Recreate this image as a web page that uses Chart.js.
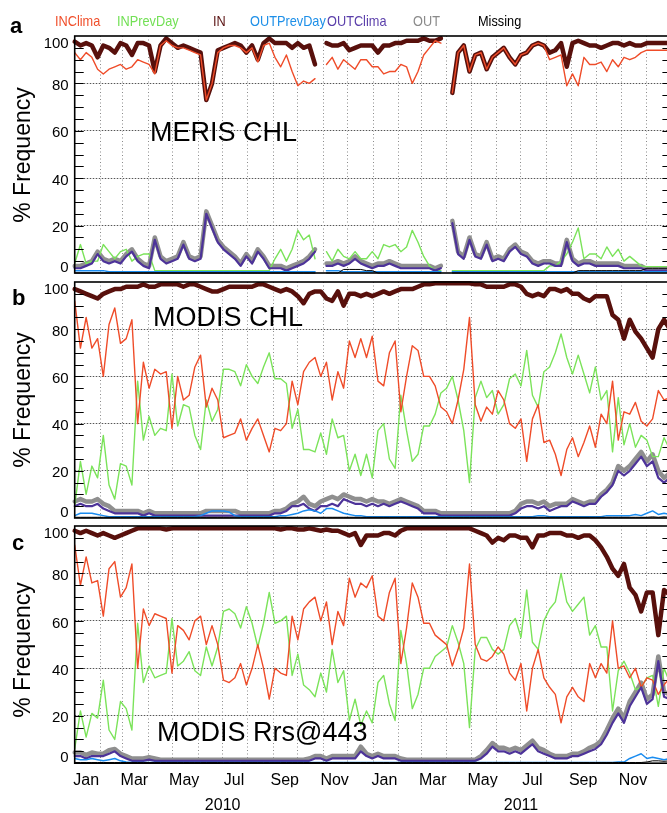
<!DOCTYPE html>
<html><head><meta charset="utf-8">
<script src="https://cdn.jsdelivr.net/npm/chart.js@4.4.1/dist/chart.umd.min.js"></script>
<style>
html,body{margin:0;padding:0;background:#fff;overflow:hidden;width:667px;height:813px;}
#wrap{position:relative;width:667px;height:813px;overflow:hidden;font-family:"Liberation Sans",Arial,Helvetica,sans-serif;color:#000;}
canvas{position:absolute;left:0;}
.t{position:absolute;white-space:nowrap;line-height:1;z-index:3;}
.lg{font-size:15px;transform:scaleX(0.85);transform-origin:0 0;}
.pl{font-size:22px;font-weight:bold;}
.yl{font-size:23px;transform:translate(-50%,-50%) rotate(-90deg);}
.ti{font-size:27px;}
</style></head><body><div id="wrap">
<canvas id="ca" width="680" height="280" style="top:0px;width:680px;height:280px"></canvas>
<canvas id="cb" width="680" height="248" style="top:276px;width:680px;height:248px"></canvas>
<canvas id="cc" width="680" height="293" style="top:520px;width:680px;height:293px"></canvas>

<div class="t lg" style="left:55px;top:13px;color:#f04e2a">INClima</div>
<div class="t lg" style="left:117px;top:13px;color:#72e055">INPrevDay</div>
<div class="t lg" style="left:213px;top:13px;color:#5a1212">IN</div>
<div class="t lg" style="left:250px;top:13px;color:#1d8fe8">OUTPrevDay</div>
<div class="t lg" style="left:327px;top:13px;color:#5a3eaa">OUTClima</div>
<div class="t lg" style="left:413px;top:13px;color:#8a8a8a">OUT</div>
<div class="t lg" style="left:478px;top:13px;color:#000">Missing</div>

<div class="t pl" style="left:10px;top:14.5px">a</div>
<div class="t pl" style="left:12px;top:286.5px">b</div>
<div class="t pl" style="left:12px;top:531.5px">c</div>

<div class="t yl" style="left:22px;top:154.5px">% Frequency</div>
<div class="t yl" style="left:22px;top:400px">% Frequency</div>
<div class="t yl" style="left:22px;top:650px">% Frequency</div>

<div class="t ti" style="left:150px;top:118.8px">MERIS CHL</div>
<div class="t ti" style="left:153px;top:303.8px">MODIS CHL</div>
<div class="t ti" style="left:157px;top:718.8px">MODIS Rrs@443</div>
</div>
<script>
// ---- axis / tick definitions (days since 1 Jan 2010) ----
const weekDays = Array.from({length:105}, (_, i) => i * 7);
const monthStarts = [31,59,90,120,151,181,212,243,273,304,334,365,396,424,455,485,516,546,577,608,638,669,699];
const monthTickDays = [14,73,134,195,257,318,379,438,499,560,622,683];
const monthTickLabels = ['Jan','Mar','May','Jul','Sep','Nov','Jan','Mar','May','Jul','Sep','Nov'];
const yearTickDays = [181,546];
const yearTickLabels = ['2010','2011'];
const yTickValues = [0,20,40,60,80,100];
const yTickLabels = ['0','20','40','60','80','100'];
const yMinorTicks = [5,10,15,20,25,30,35,40,45,50,55,60,65,70,75,80,85,90,95];
const seriesNames = ['INClima','INPrevDay','IN','OUTPrevDay','OUTClima','OUT','Missing'];

// ---- panel a : MERIS CHL ----
const aIN = [97.6,96,97,96,91,96,95,93,97,96,
 92,97,97,96,85,96,99,97,95,96,
 95,94,93,73,80,94,95,96,97,96,
 93,96,90,97,99,97,97,97,95,97,
 95,96,88,null,97,96,96,97,94,95,
 96,96,96,93,96,96,97,97,98,98,
 98,99,98,98,99,null,76,93,96,85,
 92,93,86,91,93,95,91,88,92,93,
 96,97,96,93,94,97,87,97,98,97,
 96,96,95,96,97,97,96,97,96,96,
 97,97,97,97,97];
const aINClima = [93,90,93,91,86,84,86,87,88,86,
 87,90,89,88,84,96,98,96,95,95,
 94,93,92,73,80,93,95,96,96,95,
 93,95,89,96,97,91,87,92,85,79,
 81,80,82,null,88,91,86,90,88,86,
 90,90,87,87,84,85,85,88,87,80,
 85,92,95,98,97,null,76,93,96,85,
 92,93,86,91,93,95,91,88,92,93,
 96,97,96,90,91,92,79,84,79,91,
 88,88,89,85,90,87,91,90,91,93,
 94,94,94,94,94];
const aINPrevDay = [4,12,4,5,5,12,9,6,9,10,
 5,7,8,8,1,1,1,1,1,1,
 1,1,1,1,1,1,1,1,1,1,
 1,1,1,1,1,6,10,5,10,18,
 14,16,6,null,9,5,10,7,6,9,
 6,6,9,6,12,11,12,9,11,18,
 13,7,3,1,1,null,1,1,1,1,
 1,1,1,1,1,1,1,1,1,1,
 1,1,1,3,3,5,8,13,19,6,
 8,8,6,11,7,10,5,7,5,3,
 2.7,2.7,2.7,2.7,2.7];
const aOUTClima = [2,2,3,4,8,5,4,5,4,7,
 9,5,3,2,14,6,4,5,6,12,
 6,5,6,25,19,13,10,8,6,3,
 7,4,9,6,2,2,2,1,2,3,
 4,6,9,null,3,3,4,3,4,6,
 4,3,2,3,3,4,3,2,2,2,
 2,2,2,1,2,null,21,8,6,14,
 7,6,12,5,6,5,9,11,8,7,
 4,3,4,4,3,3,13,5,3,4,
 4,3,3,3,3,3,2,2,2,2,
 1,1,1,1,1];
const aOUT = [3,3,4,5,9,6,5,6,5,8,
 10,6,4,3,15,7,5,6,7,13,
 7,6,7,26,20,14,11,9,7,4,
 8,5,10,7,3,3,3,2,3,4,
 5,7,10,null,4,4,5,4,5,7,
 5,4,3,4,4,5,4,3,3,3,
 3,3,3,2,3,null,22,9,7,15,
 8,7,13,6,7,6,10,12,9,8,
 5,4,5,5,4,4,14,6,4,5,
 5,4,4,4,4,4,3,3,3,3,
 1.5,1.5,1.5,1.5,1.5];
const aOUTPrevDay = [1,1,1,1,1,1,0.5,0.5,0.5,0.5,
 0.5,0.5,0.5,0.5,0.5,0.5,0.5,0.5,0.5,0.5,
 0.5,0.5,0.5,0.5,0.5,0.5,0.5,0.5,0.5,0.5,
 0.5,0.5,0.5,0.5,0.5,0.5,0.5,0.5,0.5,0.5,
 0.5,0.5,0.5,null,1,1,1,0.5,0.5,0.5,
 0.5,0.5,0.5,0.5,0.5,0.5,0.5,0.5,0.5,0.5,
 0.5,0.5,0.5,0.5,0.5,null,0.5,0.5,0.5,0.5,
 0.5,0.5,0.5,0.5,0.5,0.5,0.5,0.5,0.5,0.5,
 0.5,0.5,0.5,0.5,0.5,0.5,0.5,0.5,0.5,0.5,
 0.5,0.5,0.5,0.5,0.5,0.5,0.5,0.5,0.5,0.5,
 0.5,0.5,0.5,0.5,0.5];
const aMissing = [0,0,0,0,0,0,0,0,0,0,
 0,0,0,0,0,0,0,0,0,0,
 0,0,0,0,0,0,0,0,0,0,
 0,0,0,0,0,0,0,0,0,0,
 0,0,0,null,0,0,0,1.5,1.5,1.5,
 1.5,1,1,0,0,0,0,0,0,0,
 0,0,0,0,0,null,0,0,0,0,
 0,0,0,0,0,0,0,0,0,0,
 0,0,0,0,0,0,0,0,1,1,
 1,1,1,1,1,1,1,1,1,1,
 2,2,2,2,2];

// ---- panel b : MODIS CHL ----
const bIN = [97,96,95,94,93,95,96,97,97,98,
 98,98,99,98,98,99,99,99,99,98,
 99,99,98,97,96,96,97,98,98,98,
 98,98,99,99,98,97,96,97,96,94,
 91,95,96,96,93,92,96,90,95,95,
 94,95,94,95,96,95,96,97,97,97,
 98,99,99,99.5,99.5,99.5,99.5,99.5,99.5,99.5,
 99,99,98,98,98,98,99,99,98,95,
 94,95,94,97,97,96,97,95,95,93,
 92,94,94,94,86,84,76,84,79,76,
 72,68,80,84,80];
const bINClima = [92,72,85,72,76,60,82,89,74,76,
 84,40,66,55,63,61,62,38,60,50,
 52,64,69,47,55,50,34,35,36,42,
 33,38,42,35,28,38,37,40,58,48,
 62,66,68,60,66,50,62,55,75,68,
 76,68,77,58,56,70,75,45,60,73,
 71,60,60,56,47,45,40,50,63,85,
 48,41,47,44,54,50,40,38,42,24,
 42,48,32,33,27,18,29,34,26,32,
 39,30,44,40,58,33,45,44,49,41,
 39,42,54,50,51];
const bINPrevDay = [5,24,10,22,17,35,14,8,23,22,
 14,58,33,43,35,38,37,61,39,48,
 47,35,29,50,41,46,63,63,62,56,
 65,60,57,64,70,59,59,57,38,46,
 29,29,28,36,27,42,34,35,20,27,
 18,27,17,37,40,25,21,52,37,24,
 27,39,39,44,53,55,60,50,37,15,
 51,58,51,54,44,48,59,61,56,71,
 52,47,62,64,70,78,68,61,69,61,
 53,64,50,54,28,51,31,40,30,35,
 33,26,26,34,29];
const bOUTClima = [5,6,5,5,6,4,3,2,2,2,
 2,2,1,2,1,1,1,1,1,1,
 1,1,1,1,1,1,1,1,1,1,
 1,1,1,1,1,2,2,3,5,5,
 6,4,3,5,5,6,5,8,7,6,
 6,5,6,5,6,5,6,7,6,5,
 4,2,2,2,1,1,1,1,1,1,
 1,1,1,1,1,1,1,2,4,5,
 5,4,5,3,4,5,5,7,6,5,
 6,6,9,11,14,20,18,20,23,26,
 22,24,17,15,17];
const bOUT = [7,8,7,7,8,6,5,3,3,3,
 3,3,2,3,2,2,2,2,2,2,
 2,2,2,3,3,3,3,3,3,2,
 2,2,2,2,2,3,3,4,6,7,
 9,6,5,7,8,9,8,10,9,8,
 8,7,8,7,7,6,7,8,7,6,
 5,3,3,3,2,2,2,2,2,2,
 2,2,2,2,2,2,2,3,6,7,
 7,6,7,5,6,6,6,8,7,6,
 7,7,10,12,15,22,20,22,25,28,
 24,27,20,17,19];
const bOUTPrevDay = [1,2,2,2,1.5,1,0.5,0.5,0.5,0.5,
 0.5,0.5,0.5,0.5,0.5,0.5,0.5,0.5,0.5,0.5,
 0.5,0.5,1,2,3,3,3,2.5,1,0.5,
 0.5,0.5,0.5,0.5,0.5,0.5,1,1,1.5,2,
 3,3.5,3,2,4,4,3,2,1.5,1,
 1,0.5,0.5,0.5,0.5,0.5,0.5,0.5,0.5,0.5,
 0.5,0.5,0.5,0.5,0.5,0.5,0.5,0.5,0.5,0.5,
 0.5,0.5,0.5,0.5,0.5,0.5,0.5,0.5,0.5,0.5,
 0.5,1,1,0.5,0.5,0.5,0.5,0.5,0.5,0.5,
 0.5,0.5,0.5,1,1,1,1,1,1.5,1,
 2,3,1.5,2,1.5];
const bMissing = [0.3,0.3,0.3,0.3,0.3,0.3,0.3,0.3,0.3,0.3,
 0.3,0.3,0.3,0.3,0.3,0.3,0.3,0.3,0.3,0.3,
 0.3,0.3,0.3,0.3,0.3,0.3,0.3,0.3,0.3,0.3,
 0.3,0.3,0.3,0.3,0.3,0.3,0.3,0.3,0.3,0.3,
 0.3,0.3,0.3,0.3,0.3,0.3,0.3,0.3,0.3,0.3,
 0.3,0.3,0.3,0.3,0.3,0.3,0.3,0.3,0.3,0.3,
 0.3,0.3,0.3,0.3,0.3,0.3,0.3,0.3,0.3,0.3,
 0.3,0.3,0.3,0.3,0.3,0.3,0.3,0.3,0.3,0.3,
 0.3,0.3,0.3,0.3,0.3,0.3,0.3,0.3,0.3,0.3,
 0.3,0.3,0.3,0.3,0.3,0.3,0.3,0.3,0.3,0.3,
 0.3,0.5,0.3,0.5,0.3];

// ---- panel c : MODIS Rrs@443 ----
const cIN = [98,97,98,97,96,97,96,95,96,97,
 98,99,99,99,99,99,98.5,99,99,99,
 99,99,99,99,99,99,99,99,99,99,
 99,99,99,99,99,99,98.5,99,99,98.5,
 98.5,99,98.5,98,98.5,98,98,97,96,97,
 92,96,96,96,97,97,96,98,99,99,
 99,99,99,99,99,99,99,99,99,99,
 98,97,96,93,95,94,96,96,95,95,
 91,96,96,97,97,97,96,96,95,96,
 96,94,91,87,82,79,84,74,71,64,
 72,72,54,73,71];
const cINClima = [92,75,87,76,77,62,82,85,70,74,
 84,40,65,58,63,62,61,38,58,56,
 52,60,62,50,58,50,35,34,36,42,
 33,40,50,40,27,40,38,37,62,52,
 65,68,70,60,68,50,64,58,78,70,
 76,74,79,62,60,72,78,42,57,76,
 70,59,59,54,52,50,41,48,57,84,
 50,44,43,45,49,46,38,35,42,22,
 40,48,36,32,29,17,28,32,28,26,
 42,36,42,38,60,40,41,36,40,32,
 36,35,29,33,36];
const cINPrevDay = [6,22,11,21,19,35,14,10,26,23,
 14,59,34,41,36,37,38,61,41,43,
 47,39,37,49,41,49,64,65,63,57,
 66,59,49,59,72,59,60,62,37,46,
 33,31,28,38,30,48,34,39,18,27,
 16,22,17,34,37,25,18,56,42,23,
 29,40,40,45,47,49,58,51,42,15,
 48,53,53,48,46,48,58,61,53,73,
 51,48,60,65,68,80,68,64,67,70,
 54,58,49,49,22,39,43,38,31,32,
 36,37,24,40,34];
const cOUTClima = [3,3,2,3,3,3,4,5,3,2,
 1,1,1,1.5,1,1,1,1,1,1,
 1,1,1,1,1,1,1,1,1,1,
 1,1,1,1,1,1,1,1,1,1,
 1,1,2,2,1,2,2,2,2,2,
 5,3,2,3,2,2,2,1,1,1,
 1,1,1,1,1,1,1,1,1,1,
 1,2,4,7,5,5,4,5,4,6,
 8,5,4,3,2,2,2,3,3,4,
 5,6,8,12,17,21,17,24,28,32,
 25,27,43,28,27];
const cOUT = [4.5,4.5,3.5,4.5,4,4,5.5,6,4,3,
 2,2,2,2.5,2,1.5,1.5,1.5,1.5,1.5,
 1.5,1.5,1.5,1.5,1.5,1.5,1.5,1.5,1.5,1.5,
 1.5,1.5,1.5,1.5,1.5,1.5,1.5,1.5,1.5,1.5,
 1.5,2,3,3,2,3,3,3,3,3,
 7,4,3,4,3,3,3,2,1.5,1.5,
 1.5,1.5,1.5,1.5,1.5,1.5,1.5,1.5,1.5,1.5,
 1.5,3,5.5,8.5,6.5,6.5,5.5,6.5,5.5,7.5,
 9.5,6.5,5.5,4,3,3,3,4,4,5,
 6.5,7.5,9.5,14,19,23,19,26,30,34,
 27,29,45,30,29];
const cOUTPrevDay = [2,1.5,1.5,2,1.5,1,1.5,2,1,0.5,
 0.3,0.3,0.3,0.3,0.3,0.3,0.3,0.3,0.3,0.3,
 0.3,0.3,0.3,0.3,0.3,0.3,0.3,0.3,0.3,0.3,
 0.3,0.3,0.3,0.3,0.3,0.3,0.3,0.3,0.3,0.3,
 0.3,0.3,0.3,0.3,0.3,0.3,0.3,0.3,0.3,0.3,
 0.3,0.3,0.3,0.3,0.3,0.3,0.3,0.3,0.3,0.3,
 0.3,0.3,0.3,0.3,0.3,0.3,0.3,0.3,0.3,0.3,
 0.3,0.3,0.3,0.3,0.3,0.3,0.3,0.3,0.3,0.3,
 0.3,0.3,0.3,0.3,0.3,0.3,0.3,0.3,0.3,0.3,
 0.3,0.3,0.3,0.3,0.3,0.5,0.5,2,3,4,
 2,2.5,2,1.5,2];
const cMissing = [0.3,0.3,0.3,0.3,0.3,0.3,0.3,0.3,0.3,0.3,
 0.3,0.3,0.3,0.3,0.3,0.3,0.3,0.3,0.3,0.3,
 0.3,0.3,0.3,0.3,0.3,0.3,0.3,0.3,0.3,0.3,
 0.3,0.3,0.3,0.3,0.3,0.3,0.3,0.3,0.3,0.3,
 0.3,0.3,0.3,0.3,0.3,0.3,0.3,0.3,0.3,0.3,
 0.3,0.3,0.3,0.3,0.3,0.3,0.3,0.3,0.3,0.3,
 0.3,0.3,0.3,0.3,0.3,0.3,0.3,0.3,0.3,0.3,
 0.3,0.3,0.3,0.3,0.3,0.3,0.3,0.3,0.3,0.3,
 0.3,0.3,0.3,0.3,0.3,0.3,0.3,0.3,0.3,0.3,
 0.3,0.3,0.3,0.3,0.3,0.3,0.3,0.3,0.3,0.3,
 0.5,1,1,0.8,1];

// ---- styling (not data) ----
const STYLE = {
  IN:         {color:'#58100c', width:4.5, order:10},
  OUT:        {color:'#8f8f8f', width:4.5, order:9},
  INPrevDay:  {color:'#7be35a', width:1.4, order:6},
  INClima:    {color:'#ef4c29', width:1.4, order:5},
  OUTClima:   {color:'#4d3399', width:2.2, order:4},
  OUTPrevDay: {color:'#1a8cf0', width:1.5, order:3},
  Missing:    {color:'#000000', width:1,   order:2}
};
const FONT = '"Liberation Sans", Arial, Helvetica, sans-serif';

const framePlugin = {
  id: 'frame',
  afterDraw(chart) {
    const {ctx, chartArea: a} = chart;
    const y = chart.scales.y;
    ctx.save();
    ctx.setLineDash([]);
    ctx.strokeStyle = '#000';
    ctx.lineWidth = 1.2;
    ctx.beginPath();
    yMinorTicks.forEach(v => {
      const py = Math.round(y.getPixelForValue(v)) + 0.5;
      ctx.moveTo(a.left, py); ctx.lineTo(a.left + 9, py);
      ctx.moveTo(a.right - 9, py); ctx.lineTo(a.right, py);
    });
    ctx.stroke();
    ctx.lineWidth = 1.6;
    ctx.strokeRect(a.left, a.top, a.right - a.left, a.bottom - a.top);
    ctx.fillStyle = '#000';
    ctx.font = '15px ' + FONT;
    ctx.textAlign = 'right';
    ctx.textBaseline = 'middle';
    yTickValues.forEach((v, i) => {
      const off = v === 100 ? 8 : (v === 0 ? -5 : 2.5);
      ctx.fillText(yTickLabels[i], a.left - 6, y.getPixelForValue(v) + off);
    });
    ctx.restore();
  }
};

function makeChart(id, series, padTop, padBottom, withXLabels) {
  const datasets = seriesNames.map(name => ({
    label: name,
    data: series[name],
    borderColor: STYLE[name].color,
    backgroundColor: STYLE[name].color,
    borderWidth: STYLE[name].width,
    order: STYLE[name].order,
    pointRadius: 0,
    fill: false,
    tension: 0,
    spanGaps: false,
    clip: 5
  }));
  const scales = {
    x: {
      type: 'linear', min: 0, max: 730, position: 'bottom', weight: 0,
      afterFit(s) { s.height = 0; },
      afterBuildTicks(s) { s.ticks = monthStarts.map(v => ({value: v})); },
      ticks: {display: false},
      grid: {color: '#8a8a8a', lineWidth: 1, drawTicks: false},
      border: {display: false, dash: [1, 2.5]}
    },
    yb: {
      type: 'linear', min: 0, max: 100, position: 'left', z: -1,
      afterFit(s) { s.width = 0; },
      afterBuildTicks(s) { s.ticks = [20, 40, 60, 80].map(v => ({value: v})); },
      ticks: {display: false},
      grid: {color: '#d2d2d2', lineWidth: 1, drawTicks: false},
      border: {display: false}
    },
    y: {
      type: 'linear', min: 0, max: 100, position: 'left',
      afterFit(s) { s.width = 0; },
      afterBuildTicks(s) { s.ticks = yTickValues.map(v => ({value: v})); },
      ticks: {display: false},
      grid: {
        color: c => (c.tick && (c.tick.value === 0 || c.tick.value === 100)) ? 'rgba(0,0,0,0)' : '#555',
        lineWidth: 1, drawTicks: false
      },
      border: {display: false, dash: [1, 2]}
    }
  };
  if (withXLabels) {
    scales.xm = {
      type: 'linear', min: 0, max: 730, position: 'bottom', weight: 1,
      afterFit(s) { s.height = 24; },
      afterBuildTicks(s) { s.ticks = monthTickDays.map(v => ({value: v})); },
      ticks: {autoSkip: false, maxRotation: 0, minRotation: 0, padding: 8, color: '#000',
              font: {size: 16, family: FONT},
              callback: (v, i) => monthTickLabels[i]},
      grid: {display: false, drawTicks: false},
      border: {display: false}
    };
    scales.xy = {
      type: 'linear', min: 0, max: 730, position: 'bottom', weight: 2,
      afterFit(s) { s.height = 24; },
      afterBuildTicks(s) { s.ticks = yearTickDays.map(v => ({value: v})); },
      ticks: {autoSkip: false, maxRotation: 0, minRotation: 0, padding: 8.5, color: '#000',
              font: {size: 16, family: FONT},
              callback: (v, i) => yearTickLabels[i]},
      grid: {display: false, drawTicks: false},
      border: {display: false}
    };
  }
  return new Chart(document.getElementById(id), {
    type: 'line',
    data: {labels: weekDays, datasets},
    options: {
      responsive: false, animation: false, devicePixelRatio: 1, events: [],
      layout: {padding: {left: 74.7, right: 8.6, top: padTop, bottom: padBottom}},
      plugins: {legend: {display: false}, tooltip: {enabled: false}, title: {display: false}},
      elements: {point: {radius: 0}, line: {borderJoinStyle: 'round', borderCapStyle: 'round'}},
      scales
    },
    plugins: [framePlugin]
  });
}

makeChart('ca', {INClima: aINClima, INPrevDay: aINPrevDay, IN: aIN, OUTPrevDay: aOUTPrevDay,
                 OUTClima: aOUTClima, OUT: aOUT, Missing: aMissing}, 36, 7, false);
makeChart('cb', {INClima: bINClima, INPrevDay: bINPrevDay, IN: bIN, OUTPrevDay: bOUTPrevDay,
                 OUTClima: bOUTClima, OUT: bOUT, Missing: bMissing}, 6, 6, false);
makeChart('cc', {INClima: cINClima, INPrevDay: cINPrevDay, IN: cIN, OUTPrevDay: cOUTPrevDay,
                 OUTClima: cOUTClima, OUT: cOUT, Missing: cMissing}, 6, 1.8, true);
</script>
</body></html>
